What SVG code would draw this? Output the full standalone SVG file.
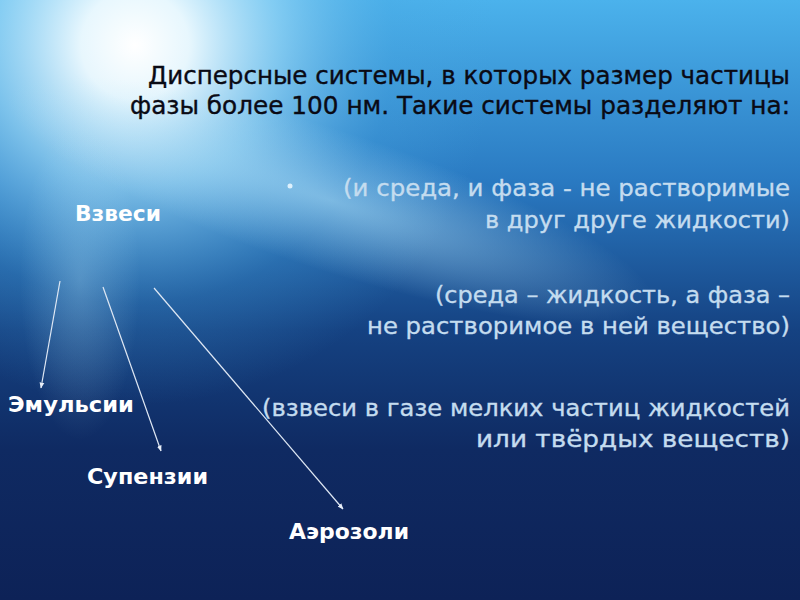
<svg xmlns="http://www.w3.org/2000/svg" width="800" height="600" viewBox="0 0 800 600">
<defs>
<linearGradient id="bg" x1="0" y1="0" x2="0" y2="1">
<stop offset="0" stop-color="#4bb2ec"/>
<stop offset="0.3" stop-color="#2a7ac2"/>
<stop offset="0.55" stop-color="#154282"/>
<stop offset="0.75" stop-color="#0f2a62"/>
<stop offset="1" stop-color="#0d2257"/>
</linearGradient>
<radialGradient id="glow" cx="135" cy="45" r="360" gradientUnits="userSpaceOnUse">
<stop offset="0" stop-color="#ffffff" stop-opacity="1"/>
<stop offset="0.15" stop-color="#f0fbff" stop-opacity="0.95"/>
<stop offset="0.4" stop-color="#9ad8f6" stop-opacity="0.7"/>
<stop offset="0.72" stop-color="#4aa6e0" stop-opacity="0.25"/>
<stop offset="1" stop-color="#4aa6e0" stop-opacity="0"/>
</radialGradient>
<radialGradient id="beam" cx="0.5" cy="0.5" r="0.5">
<stop offset="0" stop-color="#b8e6fa" stop-opacity="0.55"/>
<stop offset="1" stop-color="#b8e6fa" stop-opacity="0"/>
</radialGradient>
<marker id="ah" viewBox="0 0 10 10" refX="9" refY="5" markerWidth="5" markerHeight="5" orient="auto">
<path d="M0,1 L10,5 L0,9 z" fill="#e8eef8"/>
</marker>
<style>
.title{font-family:"DejaVu Sans Condensed","DejaVu Sans",sans-serif;font-size:25px;fill:#0a0a14;text-anchor:end;stroke:#0a0a14;stroke-width:0.35}
.desc{font-family:"DejaVu Sans",sans-serif;font-size:23px;fill:#c4dcef;text-anchor:end;stroke:#c4dcef;stroke-width:0.35}
.lbl{font-family:"DejaVu Sans",sans-serif;font-weight:bold;font-size:22px;fill:#ffffff}
.conn line{stroke:#dfe8f4;stroke-width:1.2;marker-end:url(#ah)}
</style>
</defs>
<rect width="800" height="600" fill="url(#bg)"/>
<rect width="800" height="600" fill="url(#glow)"/>
<ellipse cx="330" cy="200" rx="340" ry="70" transform="rotate(18 330 200)" fill="url(#beam)"/>
<ellipse cx="80" cy="280" rx="60" ry="160" fill="url(#beam)" opacity="0.5"/>
<circle cx="290" cy="186" r="2.5" fill="#e8f6ff" opacity="0.9"/>

<g id="title">
<text class="title" x="790" y="84" textLength="642" lengthAdjust="spacingAndGlyphs">Дисперсные системы, в которых размер частицы</text>
<text class="title" x="790" y="114" textLength="660" lengthAdjust="spacingAndGlyphs">фазы более 100 нм. Такие системы разделяют на:</text>
</g>

<g id="desc-emulsions">
<text class="desc" x="790" y="196" textLength="447" lengthAdjust="spacingAndGlyphs">(и среда, и фаза - не растворимые</text>
<text class="desc" x="790" y="228" textLength="305" lengthAdjust="spacingAndGlyphs">в друг друге жидкости)</text>
</g>
<g id="desc-suspensions">
<text class="desc" x="790" y="303" textLength="355" lengthAdjust="spacingAndGlyphs">(среда – жидкость, а фаза –</text>
<text class="desc" x="790" y="334" textLength="423" lengthAdjust="spacingAndGlyphs">не растворимое в ней вещество)</text>
</g>
<g id="desc-aerosols">
<text class="desc" x="790" y="416" textLength="528" lengthAdjust="spacingAndGlyphs">(взвеси в газе мелких частиц жидкостей</text>
<text class="desc" x="790" y="447" textLength="314" lengthAdjust="spacingAndGlyphs">или твёрдых веществ)</text>
</g>

<g id="node-vzvesi"><text class="lbl" x="75" y="221" textLength="86" lengthAdjust="spacingAndGlyphs">Взвеси</text></g>
<g id="node-emulsii"><text class="lbl" x="8" y="412" textLength="126" lengthAdjust="spacingAndGlyphs">Эмульсии</text></g>
<g id="node-supenzii"><text class="lbl" x="87" y="484" textLength="121" lengthAdjust="spacingAndGlyphs">Супензии</text></g>
<g id="node-aerozoli"><text class="lbl" x="289" y="539" textLength="120" lengthAdjust="spacingAndGlyphs">Аэрозоли</text></g>

<g id="connectors" class="conn">
<line x1="60" y1="281" x2="41" y2="388"/>
<line x1="103" y1="287" x2="161" y2="451"/>
<line x1="154" y1="288" x2="343" y2="509"/>
</g>
</svg>
